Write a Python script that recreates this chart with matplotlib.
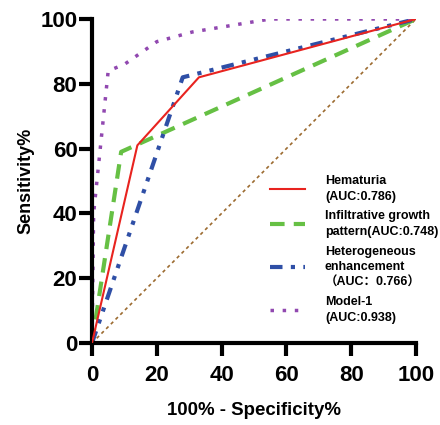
import matplotlib
matplotlib.use("Agg")
import matplotlib.pyplot as plt

plt.rcParams['font.family'] = ['Liberation Sans', 'Noto Sans CJK SC', 'DejaVu Sans']
plt.rcParams['font.weight'] = 'bold'

hem_x = [0, 14, 33, 100]
hem_y = [0, 61, 82, 100]
inf_x = [0, 9, 100]
inf_y = [0, 59, 100]
het_x = [0, 28, 100]
het_y = [0, 82, 100]
mod_x = [0, 0.5, 5, 10, 20, 31, 55, 100]
mod_y = [0, 40, 84, 86, 93, 96, 100, 100]
ref_x = [0, 100]
ref_y = [0, 100]

labels = ["Hematuria\n(AUC:0.786)",
          "Infiltrative growth\npattern(AUC:0.748)",
          "Heterogeneous\nenhancement\n（AUC：0.766）",
          "Model-1\n(AUC:0.938)"]
xticks = [0, 20, 40, 60, 80, 100]
yticks = [0, 20, 40, 60, 80, 100]

fig = plt.figure(figsize=(4.4, 4.25), dpi=100)
# x: 92..416 px, y: 19..343 px
ax = fig.add_axes([92/440, 1-343/425, 324/440, 324/425])

ax.plot(ref_x, ref_y, color='#9C6B30', lw=1.2, ls=(0, (2, 2)), zorder=1)
l1, = ax.plot(hem_x, hem_y, color='#E8231F', lw=1.5, zorder=3)
l2, = ax.plot(inf_x, inf_y, color='#66C044', lw=3, ls=(0, (3.5, 2.2)), zorder=2)
l3, = ax.plot(het_x, het_y, color='#2F4FA6', lw=3, ls=(0, (3, 2, 1, 2, 1, 2)), zorder=2)
l4, = ax.plot(mod_x, mod_y, color='#9148B0', lw=2.5, ls=(0, (1, 2.5)), zorder=2)

ax.set_xlim(0, 100)
ax.set_ylim(0, 100)
ax.set_xticks(xticks)
ax.set_yticks(yticks)
for s in ['top', 'right']:
    ax.spines[s].set_visible(False)
for s in ['left', 'bottom']:
    ax.spines[s].set_linewidth(3)
ax.tick_params(width=3, length=9.5, labelsize=16)
ax.tick_params(axis='x', pad=6)
ax.tick_params(axis='y', pad=1)
for t in ax.get_xticklabels() + ax.get_yticklabels():
    t.set_fontweight('bold')
ax.set_xlabel("100% - Specificity%", fontsize=13.4, fontweight='bold', labelpad=12)
ax.set_ylabel("Sensitivity%", fontsize=13, fontweight='bold', labelpad=4)

leg = ax.legend([l1, l2, l3, l4], labels, loc='upper left', bbox_to_anchor=(0.549, 0.518),
                frameon=False, fontsize=9, handlelength=2.8, handletextpad=1.6,
                labelspacing=0.62, borderaxespad=0, borderpad=0)
for t in leg.get_texts():
    t.set_linespacing(1.38)
fig.savefig("out.png", dpi=100)
